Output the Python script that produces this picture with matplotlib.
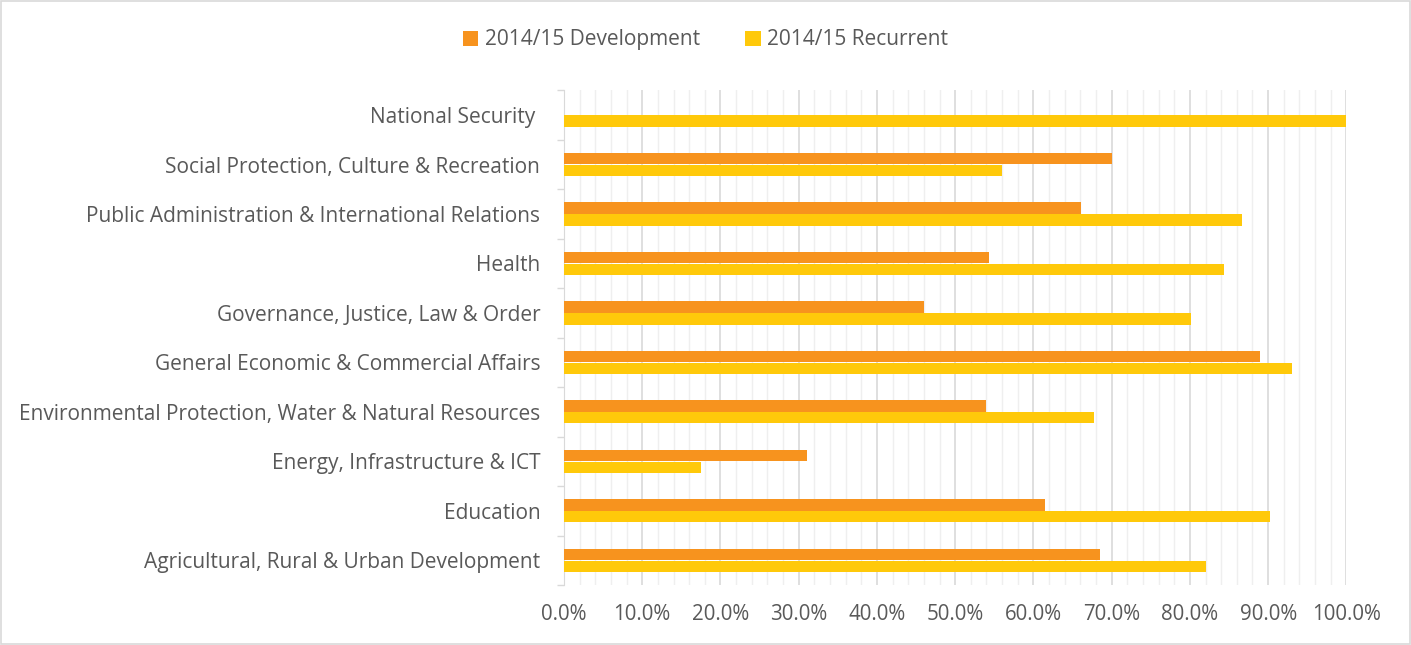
import matplotlib.pyplot as plt
import numpy as np
from matplotlib.ticker import MultipleLocator, PercentFormatter
from matplotlib.patches import Rectangle

categories = [
    'Agricultural, Rural & Urban Development',
    'Education',
    'Energy, Infrastructure & ICT',
    'Environmental Protection, Water & Natural Resources',
    'General Economic & Commercial Affairs',
    'Governance, Justice, Law & Order',
    'Health',
    'Public Administration & International Relations',
    'Social Protection, Culture & Recreation',
    'National Security ',
]
development = [68.5, 61.5, 31.1, 54.0, 89.0, 46.0, 54.3, 66.1, 70.1, 0.0]
recurrent = [82.1, 90.3, 17.5, 67.8, 93.1, 80.2, 84.4, 86.7, 56.0, 100.0]

orange = '#F7931E'
yellow = '#FFC90A'
text_col = '#595959'

plt.rcParams['font.family'] = ['Open Sans', 'DejaVu Sans']

fig = plt.figure(figsize=(14.11, 6.45), dpi=100)
ax = fig.add_axes([0.3997, 0.093, 0.5545, 0.767])

y = np.arange(len(categories))
h = 0.23
ax.barh(y + 0.12, development, height=h, color=orange, label='2014/15 Development', zorder=3)
ax.barh(y - 0.12, recurrent, height=h, color=yellow, label='2014/15 Recurrent', zorder=3)

ax.set_xlim(0, 100)
ax.set_ylim(-0.5, len(categories) - 0.5)
ax.xaxis.set_major_locator(MultipleLocator(10))
ax.xaxis.set_minor_locator(MultipleLocator(2))
ax.xaxis.set_major_formatter(PercentFormatter(decimals=1))
ax.grid(axis='x', which='major', color='#D9D9D9', linewidth=1.2, zorder=0)
ax.grid(axis='x', which='minor', color='#EFEFEF', linewidth=1.0, zorder=0)

ax.set_yticks(y)
ax.set_yticklabels(categories)
ax.set_yticks(np.arange(-0.5, len(categories)), minor=True)
ax.tick_params(axis='y', which='major', length=0, pad=17, labelsize=15, labelcolor=text_col)
ax.tick_params(axis='y', which='minor', length=5, color='#D9D9D9', width=1)
ax.tick_params(axis='x', which='both', length=0, pad=14, labelsize=14.8, labelcolor=text_col)

for s in ['top', 'right', 'bottom']:
    ax.spines[s].set_visible(False)
ax.spines['left'].set_color('#D9D9D9')

fig.legend(loc='center', bbox_to_anchor=(0.5, 0.938), ncol=2, frameon=False,
           fontsize=15, labelcolor=text_col, handlelength=0.75, handleheight=0.75,
           handletextpad=0.3, columnspacing=2.2)

fig.patches.append(Rectangle((0.001, 0.001), 0.998, 0.998, transform=fig.transFigure,
                             fill=False, edgecolor='#D9D9D9', linewidth=1.2))

fig.savefig('out.png', dpi=100)
